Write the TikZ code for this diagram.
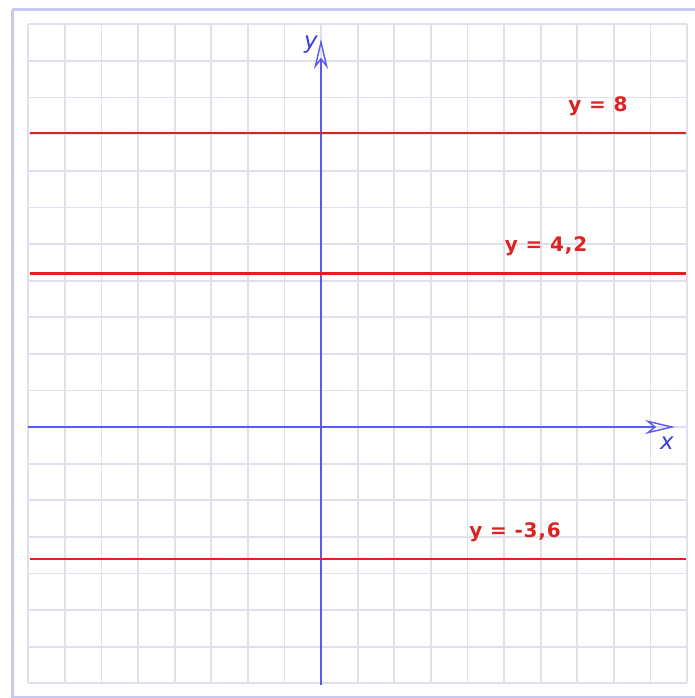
\documentclass[tikz,border=0pt]{standalone}
\usepackage{fontspec}
\setmainfont{DejaVu Sans}
\newfontfamily\labfont[LetterSpace=4]{DejaVu Sans Bold}
\newfontfamily\axfont{DejaVu Sans Oblique}
\usetikzlibrary{arrows.meta}
\definecolor{gridc}{HTML}{E0E0EC}
\definecolor{framec}{HTML}{C8C8F4}
\definecolor{axisc}{HTML}{5A5AF0}
\definecolor{axtext}{HTML}{3A3AE0}
\definecolor{redl}{HTML}{DD2222}
\tikzset{
  gridline/.style={gridc, line width=1.8pt},
  axisline/.style={axisc, line width=1.2pt, -{Stealth[open, length=30pt, width=14pt, inset=9pt, line width=1.4pt]}},
  redline/.style={redl, line width=2.4pt},
  eqlabel/.style={text=redl, font=\labfont\fontsize{20}{22}\selectfont, inner sep=0pt},
  axlabel/.style={text=axtext, font=\axfont\fontsize{23}{25}\selectfont, inner sep=0pt}
}
\begin{document}
\begin{tikzpicture}[x=1pt, y=-1pt]
\useasboundingbox (0,0) rectangle (694,698);
\fill[white] (0,0) rectangle (694,698);
% frame
\draw[framec, line width=3pt] (12,10) -- (700,10);
\draw[framec, line width=3pt] (12,10) -- (12,697) -- (700,697);
% grid
\foreach \k in {-8,...,10}{
  \draw[gridline] (321+36.6*\k, 24.4) -- (321+36.6*\k, 683.2);
}
\foreach \k in {-11,...,7}{
  \draw[gridline] (28.2, 427+36.6*\k) -- (687, 427+36.6*\k);
}
% axes
\coordinate (xs) at (28,427);
\coordinate (xe) at (675,427);
\coordinate (ys) at (321,685);
\coordinate (ye) at (321,39);
\draw[axisline] (xs) -- (xe);
\draw[axisline] (ys) -- (ye);
\node[axlabel] (xl) at (667,443) {x};
\node[axlabel] (yl) at (311,45) {y};
% red lines
\coordinate (a1) at (30,133.2);
\coordinate (a2) at (686,133.2);
\coordinate (b1) at (30,273.3);
\coordinate (b2) at (686,273.3);
\coordinate (c1) at (30,558.8);
\coordinate (c2) at (686,558.8);
\draw[redline] (a1) -- (a2);
\draw[redline] (b1) -- (b2);
\draw[redline] (c1) -- (c2);
\node[eqlabel] (la) at (598,106) {y = 8};
\node[eqlabel] (lb) at (546,246) {y = 4,2};
\node[eqlabel] (lc) at (515,532) {y = -3,6};
\end{tikzpicture}
\end{document}
